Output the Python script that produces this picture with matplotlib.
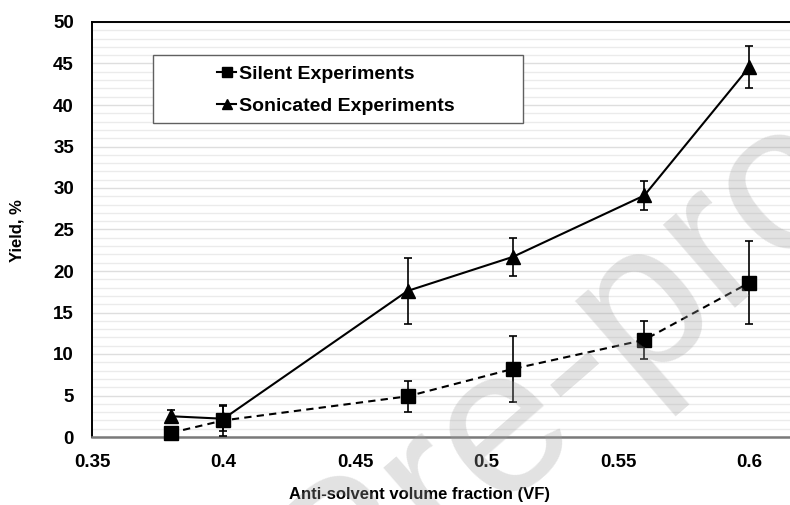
import matplotlib
matplotlib.use("Agg")
import matplotlib.pyplot as plt
from matplotlib.lines import Line2D
from matplotlib.patches import Rectangle
from matplotlib.ticker import MultipleLocator

plt.rcParams["font.family"] = ["Liberation Sans", "DejaVu Sans"]
plt.rcParams["font.weight"] = "bold"

# anti-solvent volume fraction
vf = [0.38, 0.40, 0.47, 0.51, 0.56, 0.60]

# yield (%) and error
silent = [0.5, 2.0, 4.9, 8.2, 11.7, 18.6]
silent_err = [0.0, 1.9, 1.9, 4.0, 2.3, 5.0]
sonicated = [2.5, 2.2, 17.6, 21.7, 29.1, 44.6]
sonicated_err = [0.8, 1.5, 4.0, 2.3, 1.8, 2.5]

x_ticks = [0.35, 0.40, 0.45, 0.50, 0.55, 0.60]
y_ticks = list(range(0, 55, 5))

W, H = 790, 505
fig = plt.figure(figsize=(W / 100, H / 100), dpi=100)
# plot area runs on past the right edge of the page (up to 0.65, cut off)
ax = fig.add_axes([92 / W, 1 - 437 / H, (881 - 92) / W, (437 - 22) / H])

ax.set_xlim(0.35, 0.65)
ax.set_ylim(0, 50)
ax.set_xticks(x_ticks)
ax.set_xticklabels([f"{v:g}" for v in x_ticks])
ax.set_yticks(y_ticks)
ax.set_yticklabels([str(v) for v in y_ticks])
ax.yaxis.set_minor_locator(MultipleLocator(1))
ax.tick_params(axis="both", which="both", length=0, labelsize=13.5)
ax.tick_params(axis="y", pad=13)
ax.tick_params(axis="x", pad=12)

ax.grid(True, axis="y", which="minor", color="#ebebeb", lw=1.0)
ax.grid(True, axis="y", which="major", color="#dedede", lw=1.0)
ax.set_axisbelow(True)

for side in ("left", "top"):
    ax.spines[side].set_color("black")
    ax.spines[side].set_linewidth(1.4)
ax.spines["bottom"].set_color("#7a7a7a")
ax.spines["bottom"].set_linewidth(1.8)
ax.spines["right"].set_visible(False)

ax.errorbar(vf, silent, yerr=silent_err, color="black", lw=1.5,
            ls=(0, (3.5, 2.5)), marker="s", ms=9.5, mfc="black", mec="black",
            ecolor="black", elinewidth=1.2, capsize=3, capthick=1.2,
            clip_on=False, zorder=3)
ax.errorbar(vf, sonicated, yerr=sonicated_err, color="black", lw=1.5,
            ls="-", marker="^", ms=10, mfc="black", mec="black",
            ecolor="black", elinewidth=1.2, capsize=3, capthick=1.2,
            clip_on=False, zorder=3)

# axis titles placed in page pixels
fig.text(420 / W, 1 - 495 / H, "Anti-solvent volume fraction (VF)",
         fontsize=12, fontweight="bold", ha="center", va="center")
fig.text(17 / W, 1 - 231 / H, "Yield, %", fontsize=12, fontweight="bold",
         rotation=90, ha="center", va="center")

# legend box with entries offset towards the middle
fig.patches.append(Rectangle((153 / W, 1 - 123 / H), (523 - 153) / W, (123 - 55) / H,
                             transform=fig.transFigure, fill=True, facecolor="white",
                             edgecolor="#606060", lw=1.0, zorder=5))
handles = [
    Line2D([0], [0], color="black", lw=1.5, marker="s", ms=7),
    Line2D([0], [0], color="black", lw=1.5, marker="^", ms=7),
]
leg = fig.legend(handles, ["Silent Experiments", "Sonicated Experiments"],
                 loc="upper left", bbox_to_anchor=(217 / W, 1 - 65 / H),
                 frameon=False, borderpad=0, borderaxespad=0, handlelength=1.0,
                 handletextpad=0.15, labelspacing=0.75,
                 prop={"family": "Liberation Sans", "weight": "bold", "size": 14})
leg.set_zorder(6)

# journal watermark, drawn over everything
fig.text(388 / W, 1 - 609 / H, "Journal Pre-proof", fontsize=150,
         family="Liberation Sans", fontweight="normal", color="#a0a0a0",
         alpha=0.3, rotation=41, rotation_mode="anchor",
         ha="center", va="baseline", zorder=10)

fig.savefig("out.png", dpi=100)
